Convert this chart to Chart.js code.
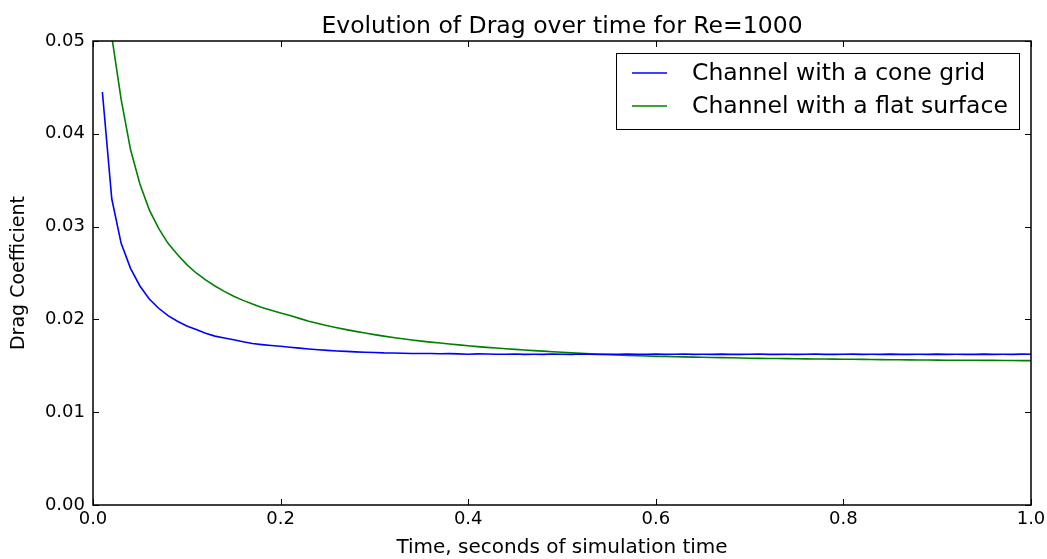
<!DOCTYPE html>
<html>
<head>
<meta charset="utf-8">
<script src="https://cdn.jsdelivr.net/npm/chart.js@4"></script>
<style>
  html, body { margin: 0; padding: 0; background: #fff; }
  #wrap { width: 1047px; height: 559px; }
</style>
</head>
<body>
<div id="wrap"><canvas id="dragChart"></canvas></div>
<script>
// DADOS
const chartTitle = 'Evolution of Drag over time for Re=1000';
const times = [
  0.01, 0.02, 0.03, 0.04, 0.05, 0.06, 0.07, 0.08, 0.09, 0.10,
  0.11, 0.12, 0.13, 0.14, 0.15, 0.16, 0.17, 0.18, 0.19, 0.20,
  0.21, 0.22, 0.23, 0.24, 0.25, 0.26, 0.27, 0.28, 0.29, 0.30,
  0.31, 0.32, 0.33, 0.34, 0.35, 0.36, 0.37, 0.38, 0.39, 0.40,
  0.41, 0.42, 0.43, 0.44, 0.45, 0.46, 0.47, 0.48, 0.49, 0.50,
  0.51, 0.52, 0.53, 0.54, 0.55, 0.56, 0.57, 0.58, 0.59, 0.60,
  0.61, 0.62, 0.63, 0.64, 0.65, 0.66, 0.67, 0.68, 0.69, 0.70,
  0.71, 0.72, 0.73, 0.74, 0.75, 0.76, 0.77, 0.78, 0.79, 0.80,
  0.81, 0.82, 0.83, 0.84, 0.85, 0.86, 0.87, 0.88, 0.89, 0.90,
  0.91, 0.92, 0.93, 0.94, 0.95, 0.96, 0.97, 0.98, 0.99, 1.00
];
const coneGrid = [
  0.0445, 0.0330, 0.0282, 0.0255, 0.0236, 0.0222, 0.0212, 0.0204, 0.0198, 0.0193,
  0.0189, 0.0185, 0.0182, 0.0180, 0.0178, 0.0176, 0.0174, 0.01728, 0.01718, 0.0171,
  0.0170, 0.0169, 0.01681, 0.01673, 0.01666, 0.0166, 0.01655, 0.0165, 0.01646, 0.01643,
  0.01639, 0.01638, 0.01636, 0.01633, 0.01632, 0.01633, 0.0163, 0.01631, 0.01629, 0.01625,
  0.01628, 0.01627, 0.01624, 0.01624, 0.01627, 0.01623, 0.01624, 0.01623, 0.01627, 0.01624,
  0.01623, 0.01627, 0.01624, 0.01623, 0.01624, 0.01623, 0.01627, 0.01624, 0.01623, 0.01627,
  0.01623, 0.01624, 0.01627, 0.01623, 0.01624, 0.01623, 0.01626, 0.01623, 0.01623, 0.01624,
  0.01627, 0.01623, 0.01623, 0.01624, 0.01623, 0.01624, 0.01627, 0.01623, 0.01623, 0.01624,
  0.01626, 0.01623, 0.01624, 0.01623, 0.01626, 0.01623, 0.01623, 0.01624, 0.01623, 0.01626,
  0.01623, 0.01624, 0.01623, 0.01623, 0.01626, 0.01623, 0.01624, 0.01623, 0.01626, 0.01624
];
const flatSurface = [
  0.0660, 0.0505, 0.0437, 0.0383, 0.0346, 0.0318, 0.0298, 0.0282, 0.0270, 0.0259,
  0.0250, 0.02425, 0.0236, 0.02302, 0.0225, 0.02205, 0.02165, 0.02129, 0.02098, 0.0207,
  0.02043, 0.02011, 0.0198, 0.01955, 0.01932, 0.0191, 0.0189, 0.01871, 0.01853, 0.01836,
  0.0182, 0.01805, 0.01791, 0.01778, 0.01766, 0.01755, 0.01745, 0.01735, 0.01725, 0.01716,
  0.01707, 0.01699, 0.01691, 0.01684, 0.01677, 0.0167, 0.01664, 0.01658, 0.01652, 0.01646,
  0.0164, 0.01635, 0.0163, 0.01625, 0.0162, 0.01616, 0.01612, 0.01608, 0.01605, 0.01602,
  0.0160, 0.01598, 0.01596, 0.01594, 0.01592, 0.0159, 0.01588, 0.01586, 0.01584, 0.01582,
  0.0158, 0.01579, 0.01578, 0.01577, 0.01576, 0.01575, 0.01574, 0.01573, 0.01572, 0.01571,
  0.0157, 0.01569, 0.01568, 0.01567, 0.01566, 0.01565, 0.01564, 0.01563, 0.01562, 0.01561,
  0.0156, 0.0156, 0.01559, 0.01559, 0.01558, 0.01558, 0.01557, 0.01557, 0.01556, 0.01556
];
const seriesLabels = ['Channel with a cone grid', 'Channel with a flat surface'];
const seriesColors = ['#0000ff', '#008000'];

const FONT = "'DejaVu Sans', sans-serif";

// MOLDURA + TICKS PARA DENTRO + TITULO + LEGENDA (estilo matplotlib)
const framePlugin = {
  id: 'frame',
  afterDatasetsDraw(chart) {
    const { ctx, chartArea: a, scales: { x, y } } = chart;
    ctx.save();
    ctx.strokeStyle = '#000';
    ctx.lineWidth = 1;
    const tl = 6;
    x.ticks.forEach(t => {
      const px = Math.round(x.getPixelForValue(t.value)) + 0.5;
      ctx.beginPath();
      ctx.moveTo(px, a.bottom); ctx.lineTo(px, a.bottom - tl);
      ctx.moveTo(px, a.top); ctx.lineTo(px, a.top + tl);
      ctx.stroke();
    });
    y.ticks.forEach(t => {
      const py = Math.round(y.getPixelForValue(t.value)) + 0.5;
      ctx.beginPath();
      ctx.moveTo(a.left, py); ctx.lineTo(a.left + tl, py);
      ctx.moveTo(a.right, py); ctx.lineTo(a.right - tl, py);
      ctx.stroke();
    });
    ctx.lineWidth = 1.5;
    ctx.strokeRect(a.left, a.top, a.right - a.left, a.bottom - a.top);

    // titulo centrado sobre a área do gráfico
    ctx.fillStyle = '#000';
    ctx.font = '23.5px ' + FONT;
    ctx.textAlign = 'center';
    ctx.textBaseline = 'alphabetic';
    ctx.fillText(chartTitle, (a.left + a.right) / 2, 33);

    // legenda
    ctx.textAlign = 'left';
    ctx.font = '23.5px ' + FONT;
    const ds = chart.data.datasets;
    const maxW = Math.max(...ds.map(d => ctx.measureText(d.label).width));
    const w = Math.round(16 + 35 + 25 + maxW + 11);
    const h = 76;
    const bx = Math.round(a.right - 12 - w), by = Math.round(a.top + 12);
    ctx.fillStyle = '#fff';
    ctx.fillRect(bx, by, w, h);
    ctx.lineWidth = 1;
    ctx.strokeStyle = '#000';
    ctx.strokeRect(bx + 0.5, by + 0.5, w, h);
    ds.forEach((d, i) => {
      const ly = by + 20 + i * 33;
      ctx.strokeStyle = d.borderColor;
      ctx.lineWidth = 1.5;
      ctx.beginPath();
      ctx.moveTo(bx + 16, ly); ctx.lineTo(bx + 51, ly);
      ctx.stroke();
      ctx.fillStyle = '#000';
      ctx.textBaseline = 'middle';
      ctx.fillText(d.label, bx + 76, ly + 1);
    });
    ctx.restore();
  }
};

const chartCtx = document.getElementById('dragChart').getContext('2d');
new Chart(chartCtx, {
  type: 'line',
  data: {
    datasets: [
      { label: seriesLabels[0], data: times.map((t, i) => ({ x: t, y: coneGrid[i] })),
        borderColor: seriesColors[0], borderWidth: 1.6, pointRadius: 0, tension: 0, clip: 0 },
      { label: seriesLabels[1], data: times.map((t, i) => ({ x: t, y: flatSurface[i] })),
        borderColor: seriesColors[1], borderWidth: 1.6, pointRadius: 0, tension: 0, clip: 0 }
    ]
  },
  options: {
    responsive: true,
    maintainAspectRatio: false,
    animation: false,
    layout: { padding: { left: 0, right: 16, top: 41, bottom: 0 } },
    plugins: {
      legend: { display: false },
      tooltip: { enabled: false },
      title: { display: false }
    },
    scales: {
      x: {
        type: 'linear', min: 0, max: 1,
        grid: { display: false, drawTicks: false },
        border: { display: false },
        ticks: { stepSize: 0.2, color: '#000', padding: 4,
          font: { family: FONT, size: 18 },
          callback: v => v.toFixed(1) },
        title: { display: true, text: 'Time, seconds of simulation time', color: '#000',
          font: { family: FONT, size: 20, lineHeight: 1.1 }, padding: { top: 2, bottom: 0 } },
        afterFit: s => { s.height = 54; s.paddingLeft = 0; s.paddingRight = 0; }
      },
      y: {
        min: 0, max: 0.05,
        grid: { display: false, drawTicks: false },
        border: { display: false },
        ticks: { stepSize: 0.01, color: '#000', padding: 8,
          font: { family: FONT, size: 18 },
          callback: v => v.toFixed(2) },
        title: { display: true, text: 'Drag Coefficient', color: '#000',
          font: { family: FONT, size: 19, lineHeight: 1.2 }, padding: { top: 8, bottom: 0 } },
        afterFit: s => { s.width = 93; s.paddingTop = 0; s.paddingBottom = 0; }
      }
    }
  },
  plugins: [framePlugin]
});
</script>
</body>
</html>
